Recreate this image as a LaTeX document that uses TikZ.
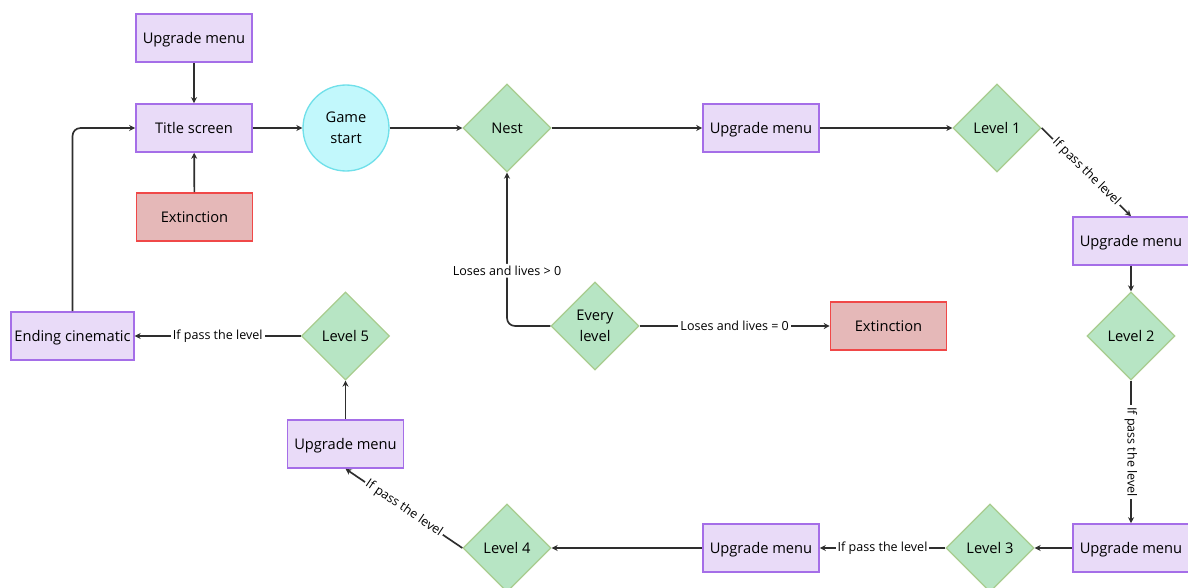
\documentclass[tikz,border=0pt]{standalone}
\usepackage{fontspec}
\setmainfont{Open Sans}
\usetikzlibrary{shapes.geometric,arrows.meta}
\definecolor{menuFill}{HTML}{E9DBF8}
\definecolor{menuLine}{HTML}{A56EE8}
\definecolor{levelFill}{HTML}{B7E5C4}
\definecolor{levelLine}{HTML}{A8CC8E}
\definecolor{startFill}{HTML}{C2F8FC}
\definecolor{startLine}{HTML}{70E0EA}
\definecolor{deadFill}{HTML}{E5B8B8}
\definecolor{deadLine}{HTML}{F04848}
\definecolor{wire}{HTML}{2E2E2E}
\begin{document}
\begin{tikzpicture}[x=0.75pt,y=-0.75pt,
  font=\fontsize{11}{15.5}\selectfont,
  menubox/.style={draw=menuLine, fill=menuFill, line width=1.2pt,
    minimum width=87pt, minimum height=36pt, inner sep=2pt,
    text height=9.6pt, text depth=1.4pt},
  deadbox/.style={draw=deadLine, fill=deadFill, line width=1.2pt,
    minimum width=87pt, minimum height=36pt, inner sep=2pt,
    text height=9.6pt, text depth=1.4pt},
  levelgem/.style={diamond, aspect=1, draw=levelLine, fill=levelFill,
    line width=1pt, minimum width=66pt, minimum height=66pt, inner sep=0pt,
    align=center},
  startdisc/.style={circle, draw=startLine, fill=startFill, line width=1pt,
    minimum size=64.5pt, inner sep=0pt, align=center},
  flow/.style={draw=wire, line width=1.25pt, -{Stealth[length=4.5pt,width=4.5pt]}},
  tag/.style={fill=white, font=\fontsize{9.4}{11}\selectfont, inner sep=1.5pt}
]
\fill[white] (0,0) rectangle (1188,588);
\useasboundingbox (0,0) rectangle (1188,588);

% nodes
\node[menubox]   (upg0)   at (194,38)   {Upgrade menu};
\node[menubox]   (title)  at (194,128)  {Title screen};
\node[deadbox]   (ext1)   at (194.5,217) {Extinction};
\node[startdisc] (start)  at (346,128)  {Game\\start};
\node[levelgem]  (nest)   at (507,128)  {Nest};
\node[menubox]   (upg1)   at (761,128)  {Upgrade menu};
\node[levelgem]  (lv1)    at (997,128)  {Level 1};
\node[menubox]   (upg2)   at (1131,241) {Upgrade menu};
\node[levelgem]  (lv2)    at (1131,336) {Level 2};
\node[menubox]   (upg3)   at (1131,548) {Upgrade menu};
\node[levelgem]  (lv3)    at (990,548)  {Level 3};
\node[menubox]   (upg4)   at (761,548)  {Upgrade menu};
\node[levelgem]  (lv4)    at (507,548)  {Level 4};
\node[menubox]   (upg5)   at (345.5,444) {Upgrade menu};
\node[levelgem]  (lv5)    at (345.5,336) {Level 5};
\node[menubox, minimum width=92pt] (ending) at (72.5,336) {Ending cinematic};
\node[levelgem]  (every)  at (595,326)  {Every\\level};
\node[deadbox]   (ext2)   at (888.5,326) {Extinction};

% connectors
\draw[flow] (upg0) -- (title);
\draw[flow] (ext1) -- (title);
\draw[flow] (title) -- (start);
\draw[flow] (start) -- (nest);
\draw[flow] (nest) -- (upg1);
\draw[flow] (upg1) -- (lv1);
\draw[flow] (lv1.east) -- node[tag, sloped] {If pass the level} (upg2.north);
\draw[flow] (upg2) -- (lv2);
\draw[flow] (lv2.south) -- node[tag, rotate=-90] {If pass the level} (upg3.north);
\draw[flow] (upg3) -- (lv3);
\draw[flow] (lv3.west) -- node[tag] {If pass the level} (upg4.east);
\draw[flow] (upg4) -- (lv4);
\draw[flow] (lv4.west) -- node[tag, sloped] {If pass the level} (upg5.south);
\draw[flow] (upg5) -- (lv5);
\draw[flow] (lv5.west) -- node[tag] {If pass the level} (ending.east);
\draw[flow, rounded corners=6pt] (ending.north) |- (title.west);
\draw[flow, rounded corners=6pt] (every.west) -| node[tag, pos=0.68] {Loses and lives > 0} (nest.south);
\draw[flow] (every.east) -- node[tag] {Loses and lives = 0} (ext2.west);
\end{tikzpicture}
\end{document}
